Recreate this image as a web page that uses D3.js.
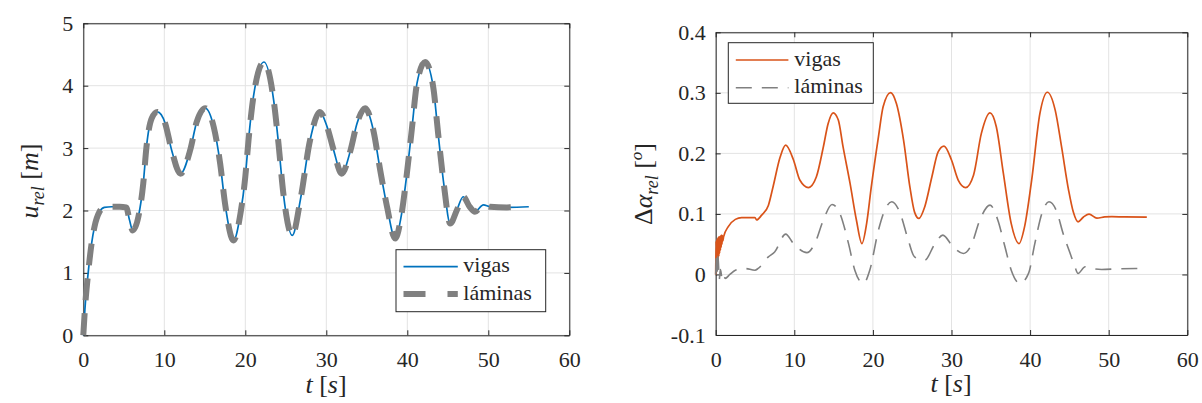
<!DOCTYPE html>
<html>
<head>
<meta charset="utf-8">
<script src="https://cdn.jsdelivr.net/npm/d3@7.9.0/dist/d3.min.js"></script>
</head>
<body style="margin:0">
<svg id="chart" width="1202" height="403">
  <text x="326" y="393" text-anchor="middle" fill="#262626" font-size="26" style="font-family:'Liberation Serif' !important"><tspan font-style="italic">t</tspan> [<tspan font-style="italic">s</tspan>]</text>
  <text x="951" y="392" text-anchor="middle" fill="#262626" font-size="26" style="font-family:'Liberation Serif' !important"><tspan font-style="italic">t</tspan> [<tspan font-style="italic">s</tspan>]</text>
</svg>
<script>
// left panel: u_rel [m]
const xTicks = [0, 10, 20, 30, 40, 50, 60];
const leftYTicks = [0, 1, 2, 3, 4, 5];
const rightYTicks = [-0.1, 0, 0.1, 0.2, 0.3, 0.4];
const rightYLabels = ['-0.1', '0', '0.1', '0.2', '0.3', '0.4'];
const seriesNames = ['vigas', 'láminas'];

const vigasT = [0, 0.2, 0.6, 1.0, 1.4, 2.0, 2.6, 3.5, 4.5, 5.3, 5.7, 6.1, 6.8, 7.4, 7.8, 8.45, 9.15, 10.1, 10.9, 12.0,
  13.2, 14.0, 15.05, 16.1, 16.9, 17.5, 18.55, 19.4, 20.0, 20.4, 21.0, 22.3, 23.5, 24.1, 24.7, 25.8, 26.8, 28.0, 29.2,
  30.1, 30.9, 31.9, 33.0, 33.8, 34.8, 35.8, 36.65, 37.5, 38.5, 39.3, 39.9, 40.55, 41.2, 42.2, 43.2, 43.8, 44.5, 45.3,
  46.1, 46.9, 47.7, 48.35, 49.4, 50.2, 52.3, 55.0];
const vigasU = [0, 0.42, 1.0, 1.45, 1.75, 1.98, 2.05, 2.06, 2.06, 2.05, 1.85, 1.68, 1.9, 2.43, 3.02, 3.48, 3.58, 3.40, 2.97, 2.59,
  2.97, 3.42, 3.64, 3.34, 2.75, 2.11, 1.52, 1.95, 2.54, 3.13, 3.82, 4.38, 3.77, 3.07, 2.27, 1.60, 2.17, 3.13, 3.58,
  3.34, 2.97, 2.59, 2.97, 3.40, 3.64, 3.29, 2.65, 2.06, 1.55, 1.95, 2.54, 3.29, 4.04, 4.38, 3.98, 3.24, 2.43, 1.79,
  2.0, 2.22, 2.06, 1.98, 2.09, 2.06, 2.05, 2.06];

const laminasT = [0, 0.2, 0.6, 1.0, 1.4, 2.0, 2.6, 3.5, 4.5, 5.3, 5.7, 6.1, 6.8, 7.4, 7.8, 8.45, 9.15, 10.1, 10.9, 12.0,
  13.2, 14.0, 15.05, 16.1, 16.9, 17.5, 18.55, 19.4, 20.0, 20.4, 21.0, 22.3, 23.5, 24.1, 24.7, 25.8, 26.8, 28.0, 29.2,
  30.1, 30.9, 31.9, 33.0, 33.8, 34.8, 35.8, 36.65, 37.5, 38.5, 39.3, 39.9, 40.55, 41.2, 42.2, 43.2, 43.8, 44.5, 45.3,
  46.1, 46.9, 47.7, 48.35, 49.4, 50.2, 52.3, 53.9];
const laminasU = [0, 0.42, 1.0, 1.45, 1.75, 1.98, 2.05, 2.06, 2.06, 2.05, 1.85, 1.68, 1.9, 2.43, 3.02, 3.48, 3.58, 3.40, 2.97, 2.59,
  2.97, 3.42, 3.64, 3.34, 2.75, 2.11, 1.52, 1.95, 2.54, 3.13, 3.82, 4.38, 3.77, 3.07, 2.27, 1.60, 2.17, 3.13, 3.58,
  3.34, 2.97, 2.59, 2.97, 3.40, 3.64, 3.29, 2.65, 2.06, 1.55, 1.95, 2.54, 3.29, 4.04, 4.38, 3.98, 3.24, 2.43, 1.79,
  2.0, 2.22, 2.06, 1.98, 2.09, 2.06, 2.05, 2.06];

// right panel: delta alpha_rel
const vigasAT = [0, 0.05, 0.1, 0.15, 0.2, 0.25, 0.3, 0.35, 0.4, 0.45, 0.5, 0.55, 0.6, 0.65, 0.7, 0.75, 0.8, 0.85, 0.9, 1.0,
  1.6, 2.5, 3.3, 5.0, 5.2, 5.85, 6.7, 7.3, 8.2, 8.9, 9.9, 10.7, 11.8, 12.8, 13.7, 14.3, 14.95, 15.6, 16.2, 17.1, 17.9,
  18.6, 19.2, 19.8, 20.7, 21.3, 22.25, 23.0, 23.9, 24.7, 25.3, 25.85, 26.6, 27.5, 28.3, 29.05, 30.0, 30.85, 31.8, 32.8,
  33.8, 34.9, 35.7, 36.6, 37.6, 38.6, 39.3, 40.2, 41.25, 42.2, 43.2, 44.0, 44.9, 45.5, 46.1, 46.8, 47.5, 48.5, 49.5,
  50.4, 52.0, 54.85];
const vigasA = [0, 0.055, 0.015, 0.058, 0.02, 0.06, 0.025, 0.062, 0.03, 0.062, 0.035, 0.063, 0.04, 0.064, 0.045, 0.065, 0.05, 0.064, 0.055, 0.062,
  0.079, 0.091, 0.094, 0.094, 0.090, 0.098, 0.114, 0.145, 0.194, 0.2135, 0.189, 0.156, 0.1436, 0.161, 0.211, 0.249, 0.267, 0.255, 0.211, 0.150, 0.090,
  0.051, 0.084, 0.145, 0.227, 0.277, 0.3005, 0.282, 0.222, 0.145, 0.103, 0.0925, 0.112, 0.161, 0.2025, 0.212, 0.189, 0.156, 0.1436, 0.164,
  0.233, 0.267, 0.244, 0.167, 0.084, 0.051, 0.079, 0.156, 0.266, 0.301, 0.271, 0.211, 0.139, 0.103, 0.087, 0.095, 0.0996, 0.093, 0.095,
  0.0955, 0.095, 0.0947];

const laminasAT = [0, 0.1, 0.2, 0.3, 0.45, 0.6, 0.8, 1.0, 1.2, 1.8, 2.5, 3.7, 5.0, 5.4, 6.7, 7.5, 8.9, 9.9, 11.6, 12.6,
  13.7, 14.8, 15.8, 16.9, 17.7, 18.8, 19.6, 20.7, 21.5, 22.4, 23.4, 24.5, 25.3, 26.6, 27.9, 28.9, 30.2, 31.5, 32.5,
  33.6, 34.9, 35.9, 36.8, 37.6, 38.7, 39.8, 40.6, 41.5, 42.4, 43.4, 44.2, 45.1, 45.7, 46.1, 47.0, 47.8, 49.1, 51.2, 54.0];
const laminasA = [0, 0.035, 0.005, 0.03, -0.008, 0.008, -0.005, 0.002, -0.0066, 0.0, 0.007, 0.0099, 0.007, 0.0099, 0.029, 0.037, 0.0666, 0.051, 0.036, 0.051,
  0.090, 0.1156, 0.1007, 0.051, 0.007, -0.0149, 0.007, 0.073, 0.106, 0.12, 0.1035, 0.0567, 0.029, 0.0237, 0.051, 0.065, 0.0457, 0.0347, 0.048,
  0.0897, 0.1145, 0.0897, 0.0457, 0.007, -0.0149, 0.0017, 0.051, 0.1007, 0.12, 0.1035, 0.0677, 0.0347, 0.0127, 0.0017, 0.0127, 0.0099, 0.0083, 0.0094, 0.0099];

const axColor = '#262626';
const gridColor = '#e3e3e3';
const fontFam = "'Liberation Serif', 'Times New Roman', serif";
const svg = d3.select('#chart');
const plotLayer = svg.insert('g', ':first-child');

function drawPanel(box, xDomain, yDomain, yTicks, yLabels) {
  const x = d3.scaleLinear().domain(xDomain).range([box.left, box.right]);
  const y = d3.scaleLinear().domain(yDomain).range([box.bottom, box.top]);
  const g = plotLayer.append('g');

  // grid
  g.append('g').selectAll('line').data(xTicks).join('line')
    .attr('x1', d => x(d)).attr('x2', d => x(d))
    .attr('y1', box.top).attr('y2', box.bottom)
    .attr('stroke', gridColor).attr('stroke-width', 1);
  g.append('g').selectAll('line').data(yTicks).join('line')
    .attr('x1', box.left).attr('x2', box.right)
    .attr('y1', d => y(d)).attr('y2', d => y(d))
    .attr('stroke', gridColor).attr('stroke-width', 1);

  const fmtY = d => yLabels[yTicks.indexOf(d)];

  const bottom = g.append('g').attr('transform', `translate(0,${box.bottom})`)
    .call(d3.axisBottom(x).tickValues(xTicks).tickSize(-5).tickSizeOuter(0).tickPadding(16).tickFormat(d => String(d)));
  const left = g.append('g').attr('transform', `translate(${box.left},0)`)
    .call(d3.axisLeft(y).tickValues(yTicks).tickSize(-5).tickSizeOuter(0).tickPadding(10).tickFormat(fmtY));
  const top = g.append('g').attr('transform', `translate(0,${box.top})`)
    .call(d3.axisTop(x).tickValues(xTicks).tickSize(-5).tickSizeOuter(0).tickFormat(''));
  const right = g.append('g').attr('transform', `translate(${box.right},0)`)
    .call(d3.axisRight(y).tickValues(yTicks).tickSize(-5).tickSizeOuter(0).tickFormat(''));

  [bottom, left, top, right].forEach(a => {
    a.attr('font-family', null);
    a.selectAll('path, line').attr('stroke', axColor).attr('stroke-width', 1);
    a.selectAll('text').attr('fill', axColor).attr('font-size', 22);
  });
  return { g, x, y };
}

function addLine(p, xs, ys, color, width, dash) {
  const pts = xs.map((t, i) => [t, ys[i]]);
  const line = d3.line().x(d => p.x(d[0])).y(d => p.y(d[1])).curve(d3.curveMonotoneX);
  p.g.append('path').datum(pts)
    .attr('d', line)
    .attr('fill', 'none')
    .attr('stroke', color)
    .attr('stroke-width', width)
    .attr('stroke-linejoin', 'round')
    .attr('stroke-dasharray', dash || null);
}

function addLegend(p, bx, items) {
  const lg = p.g.append('g');
  lg.append('rect').attr('x', bx.x).attr('y', bx.y).attr('width', bx.w).attr('height', bx.h)
    .attr('fill', '#fff').attr('stroke', axColor).attr('stroke-width', 1);
  items.forEach((it, i) => {
    const ly = bx.y + bx.first + i * bx.step;
    lg.append('line').attr('x1', bx.x + 7.5).attr('x2', bx.x + 7.5 + bx.len)
      .attr('y1', ly).attr('y2', ly)
      .attr('stroke', it.color).attr('stroke-width', it.width)
      .attr('stroke-dasharray', it.dash || null);
    lg.append('text').attr('x', bx.x + bx.tx).attr('y', ly + 5.5)
      .attr('font-size', 22).attr('fill', axColor).text(it.name);
  });
}

// ---- left panel
const L = drawPanel({ left: 83.3, right: 569.3, top: 23.3, bottom: 335.3 }, [0, 60], [0, 5], leftYTicks, leftYTicks.map(String));
addLine(L, vigasT, vigasU, '#0072BD', 1.7);
addLine(L, laminasT, laminasU, '#808080', 6, '22,13');
addLegend(L, { x: 396, y: 249.7, w: 149.7, h: 62, first: 17, step: 27.3, len: 54.3, tx: 67.3 }, [
  { name: seriesNames[0], color: '#0072BD', width: 1.7 },
  { name: seriesNames[1], color: '#808080', width: 6, dash: '22,22' }
]);

// ---- right panel
const R = drawPanel({ left: 715.7, right: 1187.3, top: 32.3, bottom: 335 }, [0, 60], [-0.1, 0.4], rightYTicks, rightYLabels);
addLine(R, vigasAT, vigasA, '#D95319', 1.7);
addLine(R, laminasAT, laminasA, '#808080', 1.6, '16,10');
addLegend(R, { x: 728.3, y: 42.7, w: 145, h: 60.6, first: 17.3, step: 27.7, len: 52.6, tx: 66 }, [
  { name: seriesNames[0], color: '#D95319', width: 1.7 },
  { name: seriesNames[1], color: '#808080', width: 1.6, dash: '16,10' }
]);

// ---- y titles (directly on the svg root)
const yl = svg.append('text').attr('transform', 'translate(38,181) rotate(-90)')
  .attr('text-anchor', 'middle').attr('font-size', 26).attr('fill', axColor);
yl.append('tspan').attr('font-style', 'italic').text('u');
yl.append('tspan').attr('font-style', 'italic').attr('font-size', 18).attr('dy', 6).text('rel');
yl.append('tspan').attr('dy', -6).text(' [');
yl.append('tspan').attr('font-style', 'italic').text('m');
yl.append('tspan').text(']');

const yr = svg.append('text').attr('transform', 'translate(652,184) rotate(-90)')
  .attr('text-anchor', 'middle').attr('font-size', 26).attr('fill', axColor);
yr.append('tspan').text('Δ');
yr.append('tspan').attr('font-style', 'italic').text('α');
yr.append('tspan').attr('font-style', 'italic').attr('font-size', 18).attr('dy', 6).text('rel');
yr.append('tspan').attr('dy', -6).text(' [');
yr.append('tspan').attr('font-style', 'italic').attr('font-size', 17).attr('dy', -10).text('o');
yr.append('tspan').attr('dy', 10).text(']');

// force the serif face on every text node with inline styles
svg.selectAll('text, tspan').each(function () {
  const el = d3.select(this);
  el.attr('font-family', fontFam).style('font-family', fontFam, 'important');
  const fs = el.attr('font-style');
  if (fs) el.style('font-style', fs, 'important');
});
</script>
</body>
</html>
